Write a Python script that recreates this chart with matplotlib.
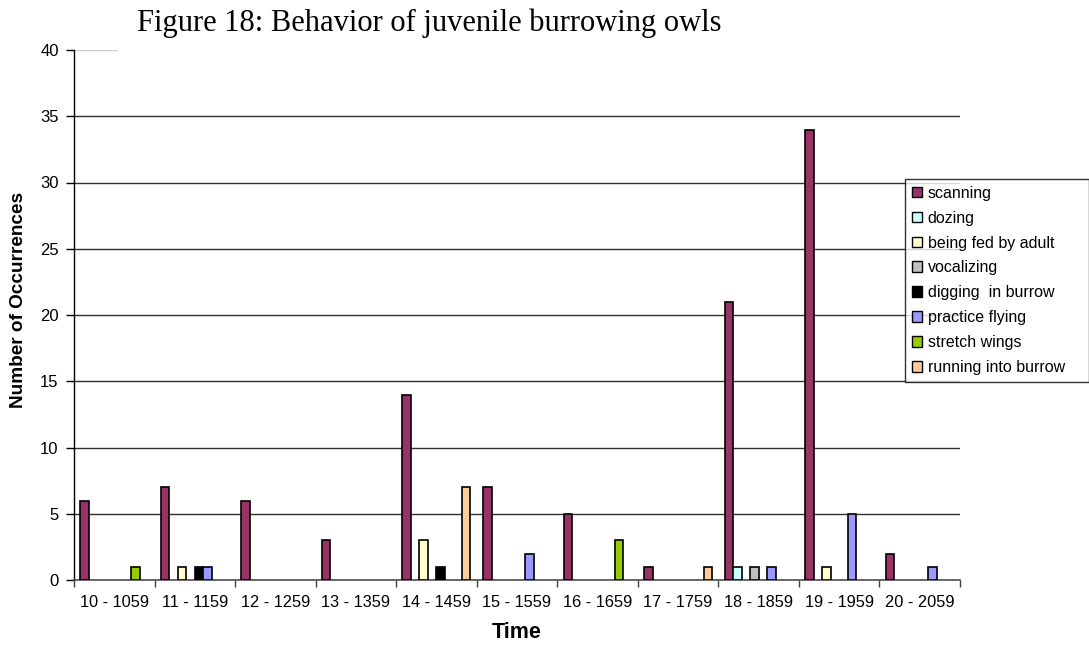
import matplotlib
matplotlib.use("Agg")
import matplotlib.pyplot as plt
import numpy as np
from matplotlib.patches import Rectangle, Patch

categories = ["10 - 1059", "11 - 1159", "12 - 1259", "13 - 1359", "14 - 1459", "15 - 1559",
              "16 - 1659", "17 - 1759", "18 - 1859", "19 - 1959", "20 - 2059"]
scanning = [6, 7, 6, 3, 14, 7, 5, 1, 21, 34, 2]
dozing = [0, 0, 0, 0, 0, 0, 0, 0, 1, 0, 0]
being_fed = [0, 1, 0, 0, 3, 0, 0, 0, 0, 1, 0]
vocalizing = [0, 0, 0, 0, 0, 0, 0, 0, 1, 0, 0]
digging = [0, 1, 0, 0, 1, 0, 0, 0, 0, 0, 0]
practice_flying = [0, 1, 0, 0, 0, 2, 0, 0, 1, 5, 1]
stretch_wings = [1, 0, 0, 0, 0, 0, 3, 0, 0, 0, 0]
running = [0, 0, 0, 0, 7, 0, 0, 1, 0, 0, 0]

series_names = ["scanning", "dozing", "being fed by adult", "vocalizing",
                "digging  in burrow", "practice flying", "stretch wings", "running into burrow"]
series_values = [scanning, dozing, being_fed, vocalizing, digging, practice_flying,
                 stretch_wings, running]
colors = ["#993366", "#CCFFFF", "#FFFFCC", "#C0C0C0", "#000000", "#9999FF", "#99CC00", "#FFCC99"]
yticks = [0, 5, 10, 15, 20, 25, 30, 35, 40]

W, H = 1089, 645
fig = plt.figure(figsize=(W / 100, H / 100), dpi=100)
fig.patch.set_facecolor("white")
ax = fig.add_axes([74 / W, 1 - 580 / H, (960 - 74) / W, (580 - 50) / H])

n = len(series_values)
x = np.arange(len(categories))
slot = 0.1055
for i, (vals, c) in enumerate(zip(series_values, colors)):
    offs = (i - (n - 1) / 2) * slot
    v = np.array(vals, dtype=float)
    mask = v > 0
    ax.bar(x[mask] + offs, v[mask], width=slot, color=c, edgecolor="black",
           linewidth=1.2, zorder=3)

ax.set_xlim(-0.5, len(categories) - 0.5)
ax.set_ylim(0, 40)
ax.set_yticks(yticks)
ax.set_yticklabels([str(t) for t in yticks], fontsize=12, family="Liberation Sans")
ax.tick_params(axis="y", direction="out", length=6, width=1, pad=5, colors="black")

ax.set_xticks(np.arange(len(categories) + 1) - 0.5)
ax.set_xticklabels([])
ax.set_xticks(x, minor=True)
ax.set_xticklabels(categories, minor=True, fontsize=11.8, family="Liberation Sans")
ax.tick_params(axis="x", which="major", direction="out", length=5, width=1, color="#404040")
ax.tick_params(axis="x", which="minor", length=0, pad=11)

ax.grid(axis="y", color="#303030", linewidth=1, zorder=0)
ax.get_ygridlines()[-1].set_color("#cccccc")
ax.set_axisbelow(True)
for s in ["top", "right"]:
    ax.spines[s].set_visible(False)
ax.spines["left"].set_color("black")
ax.spines["left"].set_linewidth(1)
ax.spines["bottom"].set_color("#505050")
ax.spines["bottom"].set_linewidth(1.2)

# white box behind title hiding part of the top gridline
ax.add_patch(Rectangle((118 / W, 1 - 56 / H), (962 - 118) / W, 56 / H,
                       transform=fig.transFigure, facecolor="white", edgecolor="none",
                       clip_on=False, zorder=10))

fig.text(137 / W, 1 - 31 / H, "Figure 18: Behavior of juvenile burrowing owls",
         family="Liberation Serif", fontsize=22, va="baseline", ha="left")
fig.text(18.5 / W, 1 - 300 / H, "Number of Occurrences", rotation=90, fontsize=13.7,
         fontweight="bold", family="Liberation Sans", va="center", ha="center")
fig.text(517 / W, 1 - 632 / H, "Time", fontsize=15.5, fontweight="bold",
         family="Liberation Sans", va="center", ha="center")

handles = [Patch(facecolor=c, edgecolor="black", linewidth=1) for c in colors]
leg = fig.legend(handles, series_names, loc="upper left",
                 bbox_to_anchor=(905 / W, 1 - 379 / H, (1089 - 905) / W, (379 - 179) / H),
                 mode="expand", frameon=True, fancybox=False, edgecolor="black",
                 prop={"family": "Liberation Sans", "size": 11.5},
                 handlelength=0.65, handleheight=0.65, handletextpad=0.35,
                 labelspacing=0.62, borderpad=0.42, borderaxespad=0)
leg.get_frame().set_linewidth(1)

fig.savefig("out.png", dpi=100, facecolor="white")
